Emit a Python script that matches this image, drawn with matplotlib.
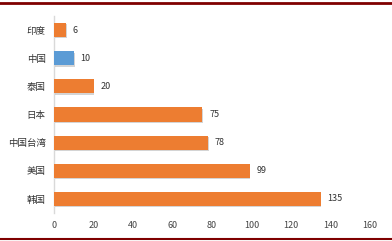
import matplotlib
matplotlib.use("Agg")
import matplotlib.pyplot as plt
import matplotlib.patheffects as pe
from matplotlib.lines import Line2D

plt.rcParams['font.family'] = ['Noto Sans CJK SC', 'DejaVu Sans']

# 数据
countries = ['韩国', '美国', '中国台湾', '日本', '泰国', '中国', '印度']
values = [135, 99, 78, 75, 20, 10, 6]
colors = ['#ED7D31', '#ED7D31', '#ED7D31', '#ED7D31', '#ED7D31', '#5B9BD5', '#ED7D31']
xticks = [0, 20, 40, 60, 80, 100, 120, 140, 160]

fig = plt.figure(figsize=(3.92, 2.41), dpi=100)
ax = fig.add_axes([54/392, 1-213/241, (370-54)/392, (213-16)/241])

bars = ax.barh(range(len(countries)), values, height=0.5, color=colors, zorder=3)
for b in bars:
    b.set_path_effects([pe.SimplePatchShadow(offset=(0.6, -1.0), shadow_rgbFace='#AAAAAA', alpha=0.5), pe.Normal()])

for i, v in enumerate(values):
    ax.text(v + 3.5, i, str(v), va='center', ha='left', fontsize=6.5, color='#333333')

ax.set_xlim(0, 160)
ax.set_ylim(-0.5, len(countries) - 0.5)
ax.set_xticks(xticks)
ax.set_yticks(range(len(countries)))
ax.set_yticklabels(countries, fontsize=6.8, color='#333333')
ax.tick_params(axis='x', labelsize=6.5, colors='#444444', length=0, pad=6)
ax.tick_params(axis='y', length=0, pad=6)

for s in ['top', 'right', 'bottom']:
    ax.spines[s].set_visible(False)
ax.spines['left'].set_color('#D9D9D9')
ax.spines['left'].set_linewidth(1)

# 上下的深红色边线
fig.add_artist(Line2D([0, 1], [1 - 2.5/241, 1 - 2.5/241], color='#7F0000', linewidth=2, transform=fig.transFigure))
fig.add_artist(Line2D([0, 1], [1 - 238.5/241, 1 - 238.5/241], color='#7F0000', linewidth=1.5, transform=fig.transFigure))

fig.savefig('out.png', dpi=100)
